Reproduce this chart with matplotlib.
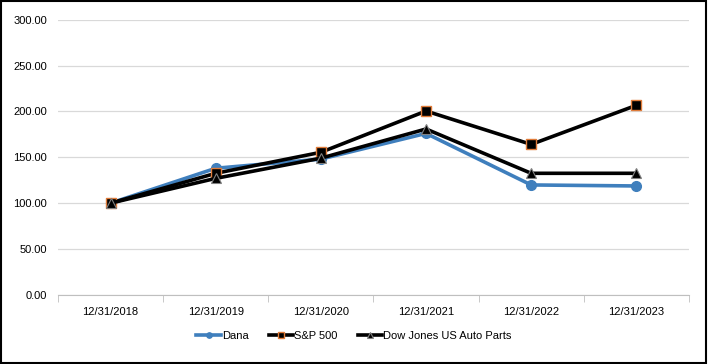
import numpy as np
import matplotlib.pyplot as plt
from matplotlib.patches import Rectangle

plt.rcParams['font.family'] = ['Liberation Sans', 'DejaVu Sans']

# Data
dates = ['12/31/2018', '12/31/2019', '12/31/2020', '12/31/2021', '12/31/2022', '12/31/2023']
dana = [100.0, 138.0, 148.0, 176.0, 119.8, 118.7]
sp500 = [100.0, 132.5, 155.4, 200.4, 164.0, 206.6]
dj_auto = [100.0, 127.0, 149.0, 180.8, 132.5, 132.5]

fig = plt.figure(figsize=(7.08, 3.64), dpi=100)
ax = fig.add_axes([0.082, 0.19, 0.891, 0.756])

x = np.arange(len(dates))
ax.plot(x, dana, color='#3f7fbd', lw=2.6, marker='o', ms=7,
        mfc='#3f7fbd', mec='#3f7fbd', label='Dana', zorder=3)
ax.plot(x, sp500, color='black', lw=2.6, marker='s', ms=7.5,
        mfc='black', mec='#e07b39', mew=1, label='S&P 500', zorder=4)
ax.plot(x, dj_auto, color='black', lw=2.6, marker='^', ms=7.5,
        mfc='black', mec='#808080', mew=0.8, label='Dow Jones US Auto Parts', zorder=5)

ax.set_xlim(-0.5, len(dates) - 0.5)
ax.set_ylim(0, 300)
ax.set_yticks(np.arange(0, 301, 50))
ax.set_yticklabels(['%.2f' % v for v in np.arange(0, 301, 50)])
ax.set_xticks(x)
ax.set_xticklabels(dates)
ax.set_xticks(np.arange(-0.5, len(dates), 1), minor=True)
ax.tick_params(axis='x', which='major', length=0, pad=9, labelsize=8)
ax.tick_params(axis='x', which='minor', length=5, color='#bfbfbf')
ax.tick_params(axis='y', length=0, labelsize=8, pad=8)

ax.grid(axis='y', color='#d9d9d9', lw=0.9)
ax.set_axisbelow(True)
for s in ['top', 'right', 'left']:
    ax.spines[s].set_visible(False)
ax.spines['bottom'].set_color('#bfbfbf')

fig.legend(loc='center', bbox_to_anchor=(0.5, 0.077), ncol=3, frameon=False,
           fontsize=8, handlelength=2.2, handletextpad=0.1, columnspacing=1.8,
           markerscale=0.55)

fig.patches.append(Rectangle((0.002, 0.003), 0.995, 0.993, transform=fig.transFigure,
                             fill=False, edgecolor='black', lw=1.5))

fig.savefig('out.png', dpi=100)
